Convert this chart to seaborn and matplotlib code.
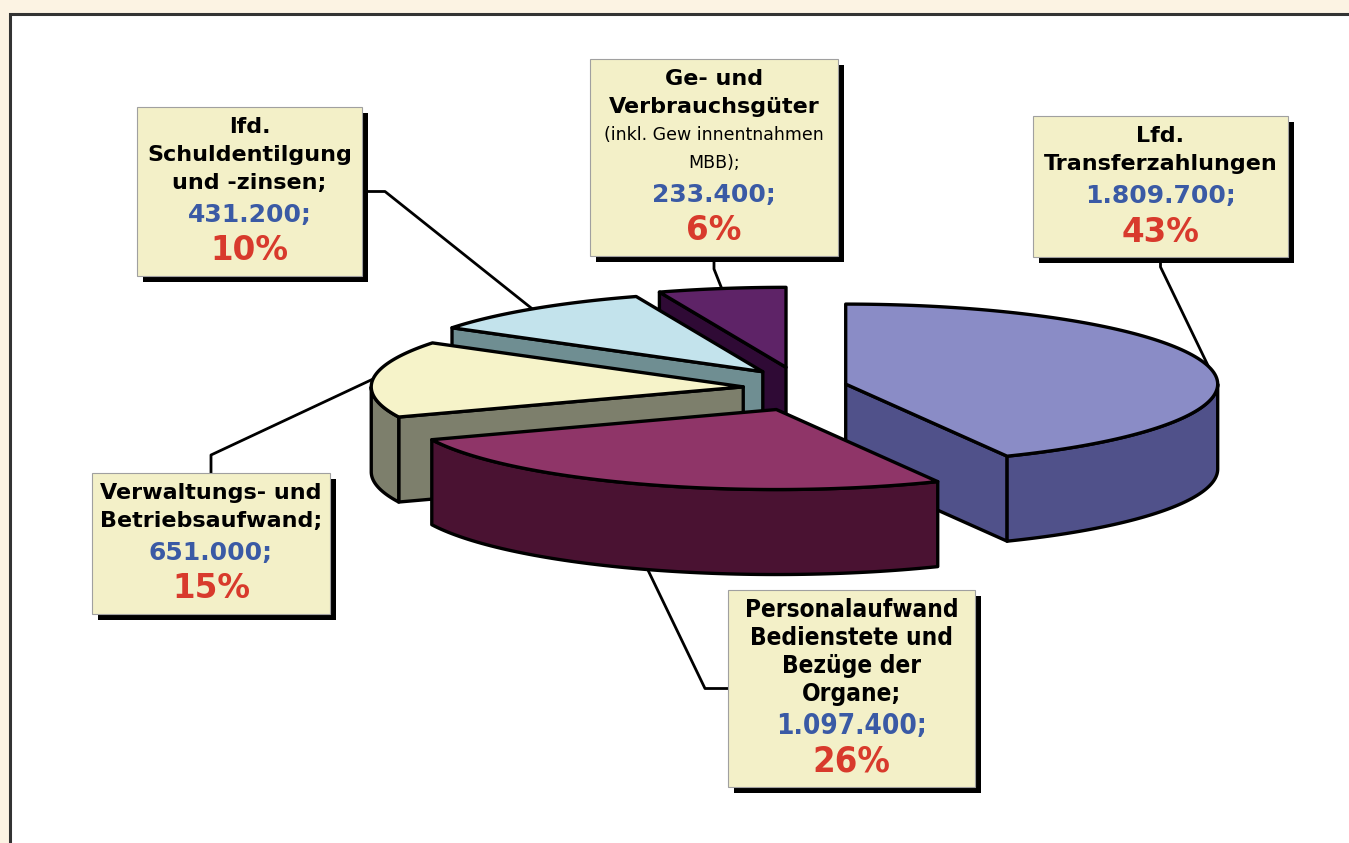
import numpy as np
import matplotlib
matplotlib.use("Agg")
import matplotlib.pyplot as plt
import seaborn as sns
from matplotlib.patches import Polygon, Rectangle
from matplotlib import font_manager

# Daten (Ausgaben, Reihenfolge im Uhrzeigersinn ab 12 Uhr)
namen = [
    ["Lfd.", "Transferzahlungen"],
    ["Personalaufwand", "Bedienstete und", "Bezüge der", "Organe;"],
    ["Verwaltungs- und", "Betriebsaufwand;"],
    ["lfd.", "Schuldentilgung", "und -zinsen;"],
    ["Ge- und", "Verbrauchsgüter", "(inkl. Gew innentnahmen", "MBB);"],
]
werte = [1809700, 1097400, 651000, 431200, 233400]

# Farben (Oberseite / Seitenflaeche)
farbe_oben = ["#8A8CC6", "#8F3568", "#F6F3C9", "#C3E3EC", "#5E2367"]
farbe_seite = ["#50518A", "#4A1232", "#7D7F6C", "#6F8E92", "#2F0A35"]

# Layout der Beschriftungsboxen: (links, oben, breite), Seite fuer Linie, Knicklaenge
box_pos = [(1033, 116, 255), (728, 590, 247), (92, 473, 238), (137, 107, 225), (590, 59, 248)]
box_seite = ["bottom", "left", "top", "right", "bottom"]
knick = [10, 23, 18, 23, 13]

# Geometrie der 3D-Torte (Pixel)
CX, CY = 795, 389
RX, RY = 372, 80
HOEHE = 85
EX, EY = 52, 22

sns.set_theme(style="white")
plt.rcParams["font.family"] = ["DejaVu Sans"]

verfuegbar = {f.name for f in font_manager.fontManager.ttflist}
if "Liberation Sans Narrow" in verfuegbar:
    schmal = dict(family="Liberation Sans Narrow", fontstretch="normal")
else:
    schmal = dict(family="DejaVu Sans", fontstretch="condensed")

fig = plt.figure(figsize=(13.49, 8.43), dpi=100, facecolor="#FCF3E3")
ax = fig.add_axes([0, 0, 1, 1])
ax.set_xlim(0, 1349)
ax.set_ylim(843, 0)
ax.axis("off")
ax.add_patch(Rectangle((10, 14), 1360, 860, facecolor="white", edgecolor="#333333", lw=2.2, zorder=0))

gesamt = float(sum(werte))
grenzen = np.concatenate([[0], np.cumsum(werte)]) / gesamt * 360.0


def rand(spitze, t):
    t = np.radians(t)
    return np.column_stack([spitze[0] + RX * np.sin(t), spitze[1] - RY * np.cos(t)])


stuecke = []
for i, w in enumerate(werte):
    t1, t2 = grenzen[i], grenzen[i + 1]
    mitte = np.radians((t1 + t2) / 2)
    spitze = (CX + EX * np.sin(mitte), CY - EY * np.cos(mitte))
    stuecke.append((i, t1, t2, spitze))

# Zeichnen von hinten nach vorne
for i, t1, t2, spitze in sorted(stuecke, key=lambda s: s[3][1]):
    unten = np.array([0, HOEHE])
    sp = np.array(spitze)
    z = 2 + spitze[1] / 1000
    # Schnittflaechen
    for t, norm in [(t1, t1 - 90), (t2, t2 + 90)]:
        if np.cos(np.radians(norm)) < -0.01:
            r = rand(spitze, [t])[0]
            flaeche = np.array([sp, r, r + unten, sp + unten])
            ax.add_patch(Polygon(flaeche, closed=True, fc=farbe_seite[i], ec="black",
                                 lw=2.4, joinstyle="round", zorder=z))
    # Mantelflaeche
    a, b = max(t1, 90), min(t2, 270)
    if b > a:
        bogen = rand(spitze, np.linspace(a, b, 80))
        mantel = np.vstack([bogen, (bogen + unten)[::-1]])
        ax.add_patch(Polygon(mantel, closed=True, fc=farbe_seite[i], ec="black",
                             lw=2.4, joinstyle="round", zorder=z))
    # Oberseite
    oben = np.vstack([[sp], rand(spitze, np.linspace(t1, t2, 120))])
    ax.add_patch(Polygon(oben, closed=True, fc=farbe_oben[i], ec="black",
                         lw=2.4, joinstyle="round", zorder=z + 0.0005))

# Beschriftungen
for i, t1, t2, spitze in stuecke:
    x0, y0, bw = box_pos[i]
    zeilen = namen[i]
    y_pct = y0 + 20 + 28 * (len(zeilen) - 1) + 32 + 36
    bh = y_pct + 25 - y0
    ax.add_patch(Rectangle((x0 + 6, y0 + 6), bw, bh, facecolor="black", edgecolor="none", zorder=5))
    ax.add_patch(Rectangle((x0, y0), bw, bh, facecolor="#F3F0C8", edgecolor="#A0A0A0", lw=0.8, zorder=6))
    xm = x0 + bw / 2
    font = schmal if i == 1 else dict(family="DejaVu Sans")
    groesse = 17.5 if i == 1 else 16
    for k, z in enumerate(zeilen):
        klein = z.startswith("(") or z.startswith("MBB")
        ax.text(xm, y0 + 20 + 28 * k, z, ha="center", va="center", color="black",
                fontsize=12.5 if klein else groesse, fontweight="normal" if klein else "bold",
                zorder=7, **font)
    y_wert = y0 + 20 + 28 * (len(zeilen) - 1) + 32
    wert_txt = f"{werte[i]:,}".replace(",", ".") + ";"
    ax.text(xm, y_wert, wert_txt, ha="center", va="center", color="#3A5AA5",
            fontsize=20 if i == 1 else 18, fontweight="bold", zorder=7, **font)
    pct_txt = f"{round(werte[i] / gesamt * 100):.0f}%"
    ax.text(xm, y_wert + 36, pct_txt, ha="center", va="center", color="#D83A2C",
            fontsize=26 if i == 1 else 23.5, fontweight="bold", zorder=7, **font)

    # Fuehrungslinie
    seite = box_seite[i]
    if seite == "bottom":
        p0 = (xm, y0 + bh); p1 = (xm, y0 + bh + knick[i])
    elif seite == "top":
        p0 = (xm, y0); p1 = (xm, y0 - knick[i])
    elif seite == "left":
        p0 = (x0, y0 + bh / 2); p1 = (x0 - knick[i], y0 + bh / 2)
    else:
        p0 = (x0 + bw, y0 + bh / 2); p1 = (x0 + bw + knick[i], y0 + bh / 2)
    mitte = (t1 + t2) / 2
    p2 = rand(spitze, [mitte])[0]
    if np.cos(np.radians(mitte)) < -0.5:
        p2 = p2 + np.array([0, HOEHE * 0.88])
    ax.plot([p0[0], p1[0], p2[0]], [p0[1], p1[1], p2[1]], color="black", lw=2, zorder=1.5,
            solid_joinstyle="round")

fig.savefig("out.png", dpi=100, facecolor=fig.get_facecolor())
